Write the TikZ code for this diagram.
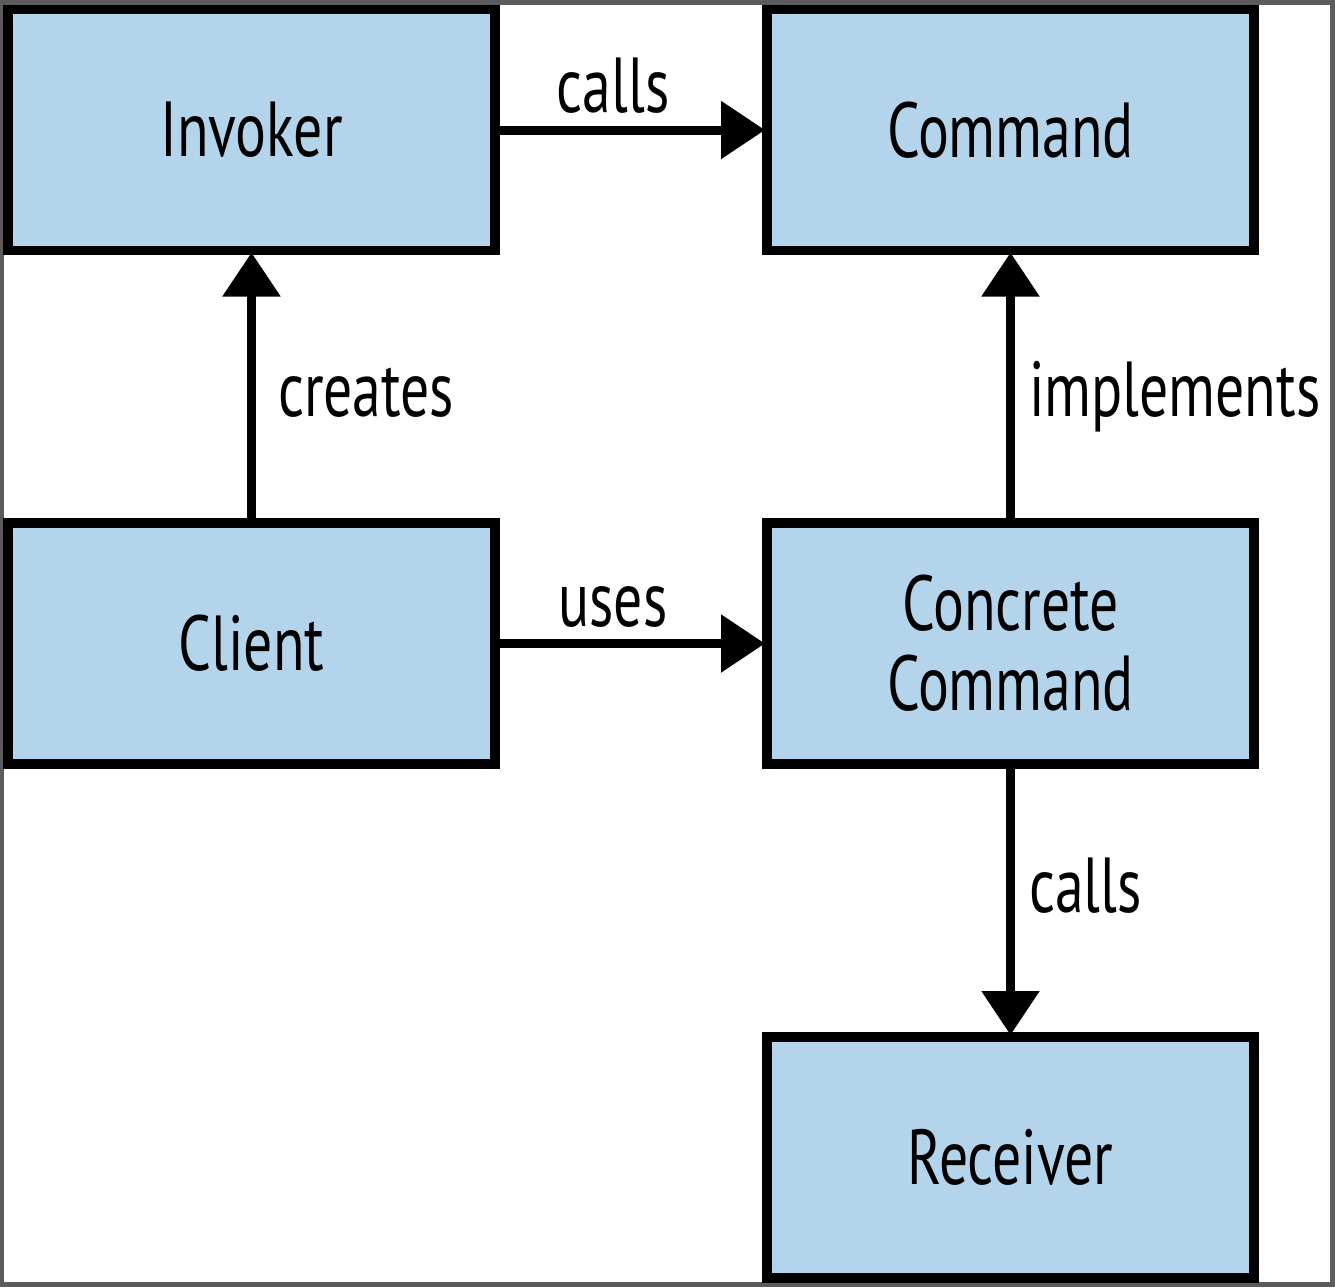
\documentclass[tikz,border=0pt]{standalone}
\usepackage{fontspec}
\setmainfont[FakeStretch=0.74]{PT Sans}
\usetikzlibrary{arrows.meta}
\definecolor{boxfill}{HTML}{B3D4EA}
\definecolor{framegray}{HTML}{5C5C5C}
\tikzset{
  box/.style={draw=black, fill=boxfill, line width=4.75pt,
    minimum width=243.5pt, minimum height=120.5pt, inner sep=0pt,
    outer sep=1pt, align=center, font=\fontsize{39}{40}\selectfont},
  link/.style={line width=4.5pt, -{Triangle[length=22pt,width=28pt]}},
  lbl/.style={font=\fontsize{39}{40}\selectfont, inner sep=0pt}
}
\begin{document}
\begin{tikzpicture}[x=0.5pt,y=-0.5pt]
  % frame and canvas
  \useasboundingbox (0,0) rectangle (1335,1287);
  \fill[framegray] (0,0) rectangle (1335,1287);
  \fill[white] (4,5) rectangle (1330,1282);

  % participants
  \node[box] (inv) at (251.5,130) {Invoker};
  \node[box] (cmd) at (1010.5,130) {Command};
  \node[box] (cli) at (251.5,643.5) {Client};
  \node[box] (con) at (1010.5,643.5) {Concrete\\Command};
  \node[box] (rec) at (1010.5,1157.5) {Receiver};

  % relations
  \draw[link] (inv.east) -- node[lbl, above=6pt, xshift=-9pt] {calls} (cmd.west);
  \draw[link] (cli.east) -- node[lbl, above=6pt, xshift=-9pt] {uses} (con.west);
  \draw[link] (cli.north) -- node[lbl, right=11pt, yshift=-3pt] {creates} (inv.south);
  \draw[link] (con.north) -- node[lbl, right=7pt, yshift=-5pt] {implements} (cmd.south);
  \draw[link] (con.south) -- node[lbl, right=7pt, yshift=7.5pt] {calls} (rec.north);
\end{tikzpicture}
\end{document}
